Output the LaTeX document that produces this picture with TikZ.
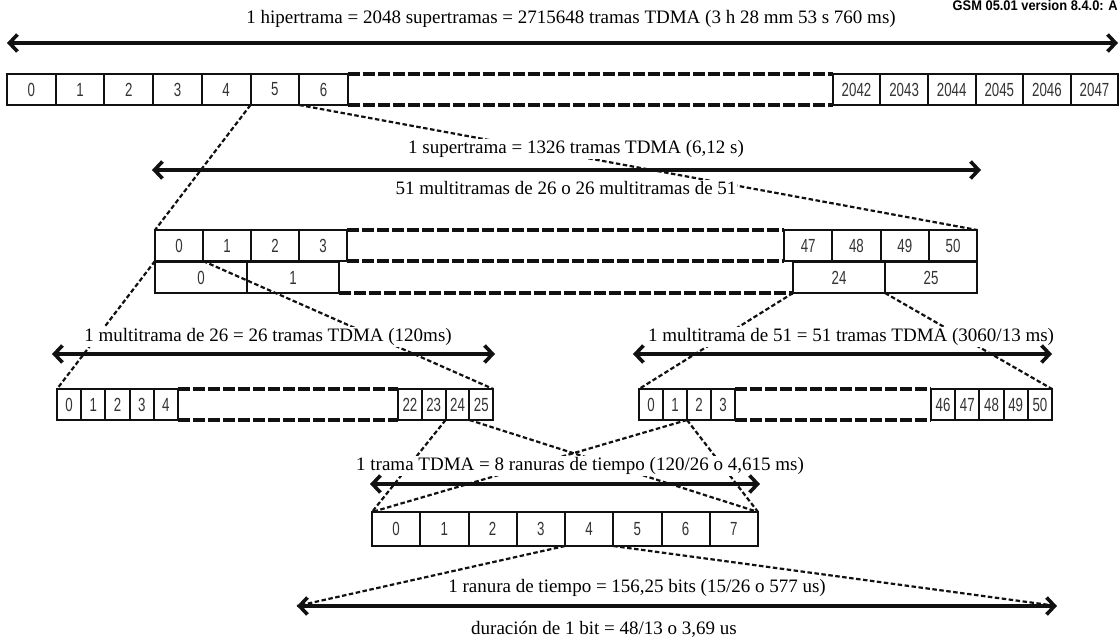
\documentclass[tikz,border=0pt]{standalone}
\usepackage{fontspec}
\setmainfont{Liberation Serif}
\newfontfamily\gsmserif{Liberation Serif}
\newfontfamily\gsmsans[FakeStretch=0.7]{Liberation Sans}
\newfontfamily\gsmhead[FakeStretch=0.92]{Liberation Sans}
\usetikzlibrary{arrows.meta,positioning}
\definecolor{ink}{HTML}{111111}
\definecolor{numgray}{HTML}{333333}

\tikzset{
  cell/.style={draw=ink,line width=2pt,inner sep=0pt,outer sep=0pt,
               anchor=north west,minimum height=31pt,text=numgray,
               font=\gsmsans\fontsize{19}{20}\selectfont},
  gapline/.style={draw=ink,line width=3.6pt,dash pattern=on 12pt off 3pt},
  zoomline/.style={draw=ink,line width=2.2pt,dash pattern=on 4.5pt off 2.5pt},
  span/.style={draw=ink,line width=3.6pt,
               {Straight Barb[length=8pt,width=17pt]}-{Straight Barb[length=8pt,width=17pt]}},
  caption/.style={fill=white,inner sep=1pt,font=\gsmserif\fontsize{19}{21}\selectfont}
}

\begin{document}
\begin{tikzpicture}[x=1pt,y=-1pt]
\useasboundingbox (0,0) rectangle (1119,642);

% hipertrama row
\foreach \i in {0,...,6}
  \node[cell,minimum width=48.7pt] (a\i) at ({7+48.7*\i},74) {\i};
\foreach \n [count=\k from 0] in {2042,...,2047}
  \node[cell,minimum width=47.6pt] (a\n) at ({832.7+47.6*\k},74) {\n};
\draw[gapline] (a6.north east) -- (a2042.north west)
               (a6.south east) -- (a2042.south west);

% supertrama rows
\foreach \i in {0,...,3}
  \node[cell,minimum width=48pt] (b\i) at ({155+48*\i},230) {\i};
\foreach \n [count=\k from 0] in {47,...,50}
  \node[cell,minimum width=48.3pt] (b\n) at ({784+48.3*\k},230) {\n};
\foreach \i in {0,1}
  \node[cell,minimum width=92pt] (l\i) at ({155+92*\i},262) {\i};
\foreach \n [count=\k from 0] in {24,25}
  \node[cell,minimum width=92pt] (l\n) at ({793+92*\k},262) {\n};
\draw[gapline] (b3.north east) -- (b47.north west)
               (b3.south east) -- (b47.south west)
               (l1.south east) -- (l24.south west);

% multitrama de 26
\foreach \i in {0,...,4}
  \node[cell,minimum width=24.2pt] (m\i) at ({57+24.2*\i},389) {\i};
\foreach \n [count=\k from 0] in {22,...,25}
  \node[cell,minimum width=23.8pt] (m\n) at ({398+23.8*\k},389) {\n};
\draw[gapline] (m4.north east) -- (m22.north west)
               (m4.south east) -- (m22.south west);

% multitrama de 51
\foreach \i in {0,...,3}
  \node[cell,minimum width=24pt] (n\i) at ({639+24*\i},389) {\i};
\foreach \n [count=\k from 0] in {46,...,50}
  \node[cell,minimum width=24.2pt] (n\n) at ({931+24.2*\k},389) {\n};
\draw[gapline] (n3.north east) -- (n46.north west)
               (n3.south east) -- (n46.south west);

% trama TDMA
\foreach \i in {0,...,7}
  \node[cell,minimum width=48.25pt,minimum height=34pt] (s\i) at ({372+48.25*\i},512) {\i};

% span ends
\coordinate (hyL) at (7,43);    \coordinate (hyR) at (1118,43);
\coordinate (suL) at (152,170); \coordinate (suR) at (981,170);
\coordinate (maL) at (52,354);  \coordinate (maR) at (495,354);
\coordinate (mbL) at (633,354); \coordinate (mbR) at (1052,354);
\coordinate (trL) at (370,484); \coordinate (trR) at (760,484);
\coordinate (slL) at (297,606); \coordinate (slR) at (1057,606);

% zoom lines
\draw[zoomline] (a5.south west) -- (b0.north west);
\draw[zoomline] (a6.south west) -- (b50.north east);
\draw[zoomline] (b0.south west) -- (m0.north west);
\draw[zoomline] (b0.south east) -- (m25.north east);
\draw[zoomline] (l24.south west) -- (n0.north west);
\draw[zoomline] (l24.south east) -- (n50.north east);
\draw[zoomline] (m24.south west) -- (s0.north west);
\draw[zoomline] (m24.south east) -- (s7.north east);
\draw[zoomline] (n1.south east) -- (s0.north west);
\draw[zoomline] (n1.south east) -- (s7.north east);
\draw[zoomline] (s4.south west) -- (slL);
\draw[zoomline] (s4.south east) -- (slR);

% captions
\node[anchor=base east,inner sep=0pt,font=\gsmhead\bfseries\fontsize{14}{15}\selectfont]
  (gsm) at (1118,11) {GSM 05.01 version 8.4.0: A};
\node[caption] (hyper) at (571,19)
  {1 hipertrama = 2048 supertramas = 2715648 tramas TDMA (3 h 28 mm 53 s 760 ms)};
\node[caption] (super) at (576,149) {1 supertrama = 1326 tramas TDMA (6,12 s)};
\node[caption] (multi) at (566,188) {51 multitramas de 26 o 26 multitramas de 51};
\node[caption] (mf26) at (268,337) {1 multitrama de 26 = 26 tramas TDMA (120ms)};
\node[caption] (mf51) at (851,337) {1 multitrama de 51 = 51 tramas TDMA (3060/13 ms)};
\node[caption] (trama) at (580,466) {1 trama TDMA = 8 ranuras de tiempo (120/26 o 4,615 ms)};
\node[caption] (ranura) at (637,588) {1 ranura de tiempo = 156,25 bits (15/26 o 577 us)};
\node[caption] (bit) at (604,629) {duración de 1 bit = 48/13 o 3,69 us};

% spans
\draw[span] (hyL) -- (hyR);
\draw[span] (suL) -- (suR);
\draw[span] (maL) -- (maR);
\draw[span] (mbL) -- (mbR);
\draw[span] (trL) -- (trR);
\draw[span] (slL) -- (slR);
\end{tikzpicture}
\end{document}
